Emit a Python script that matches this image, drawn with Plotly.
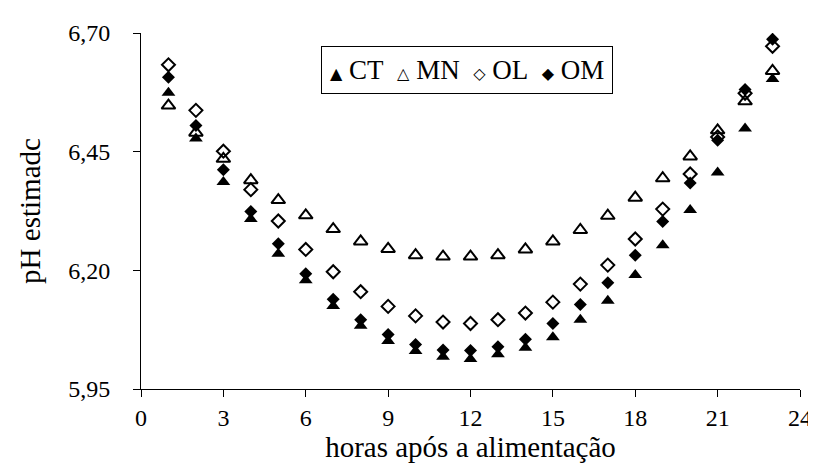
import plotly.graph_objects as go

hours = list(range(1, 24))
CT = [6.574, 6.478, 6.386, 6.308, 6.235, 6.179, 6.125, 6.083, 6.051, 6.030, 6.018, 6.013,
      6.023, 6.037, 6.059, 6.096, 6.136, 6.190, 6.253, 6.327, 6.406, 6.499, 6.603]
MN = [6.547, 6.490, 6.435, 6.390, 6.348, 6.316, 6.287, 6.261, 6.245, 6.232, 6.229, 6.229,
      6.232, 6.244, 6.261, 6.285, 6.315, 6.353, 6.394, 6.440, 6.495, 6.556, 6.620]
OL = [6.633, 6.537, 6.451, 6.370, 6.304, 6.244, 6.197, 6.155, 6.124, 6.104, 6.091, 6.088,
      6.096, 6.110, 6.133, 6.171, 6.211, 6.266, 6.329, 6.403, 6.481, 6.573, 6.672]
OM = [6.607, 6.505, 6.412, 6.324, 6.256, 6.193, 6.139, 6.096, 6.065, 6.044, 6.032, 6.031,
      6.039, 6.055, 6.088, 6.128, 6.174, 6.232, 6.303, 6.384, 6.474, 6.581, 6.687]

x_ticks = [0, 3, 6, 9, 12, 15, 18, 21, 24]
y_ticks = [5.95, 6.20, 6.45, 6.70]

FONT = "Liberation Serif, Times New Roman, serif"

series = [
    ("CT", CT, "triangle-up", 12, "▲"),
    ("MN", MN, "triangle-up-open", 12, "△"),
    ("OL", OL, "diamond-open", 10, "◇"),
    ("OM", OM, "diamond", 10, "◆"),
]

fig = go.Figure()
for name, vals, sym, size, _ in series:
    fig.add_trace(go.Scatter(
        x=hours, y=vals, name=name, mode="markers", showlegend=False,
        marker=dict(symbol=sym, size=size, color="black",
                    line=dict(color="black", width=2 if "open" in sym else 0)),
    ))

nb = "\u00a0"
legend_text = (nb * 2).join(
    f"<span style='font-size:16px;font-family:DejaVu Sans'>{glyph}</span>{nb}{name}"
    for name, _, _, _, glyph in series
)
fig.add_annotation(
    xref="paper", yref="paper", x=0.4948, y=0.897, xanchor="center", yanchor="middle",
    text=legend_text, showarrow=False,
    font=dict(family=FONT, size=27, color="black"),
    bordercolor="black", borderwidth=1, borderpad=8, bgcolor="white",
)

fig.update_layout(
    width=816, height=465,
    margin=dict(l=133, r=14, t=21, b=84),
    paper_bgcolor="white", plot_bgcolor="white",
    separators=",.",
    font=dict(family=FONT, size=24, color="black"),
    showlegend=False,
    xaxis=dict(
        range=[0, 24], tickvals=x_ticks, ticks="outside", ticklen=7, tickcolor="black",
        showline=True, linecolor="black", linewidth=1, showgrid=False, zeroline=False,
        tickfont=dict(family=FONT, size=24),
        title=dict(text="horas após a alimentação", font=dict(family=FONT, size=29), standoff=2),
    ),
    yaxis=dict(
        range=[5.95, 6.70], tickvals=y_ticks, tickformat=".2f", ticks="outside", ticklen=7,
        tickcolor="black", showline=True, linecolor="black", linewidth=1,
        showgrid=False, zeroline=False,
        tickfont=dict(family=FONT, size=24), ticklabelstandoff=18,
        title=dict(text="pH estimadc", font=dict(family=FONT, size=29), standoff=19),
    ),
)

fig.write_html("out.html")
